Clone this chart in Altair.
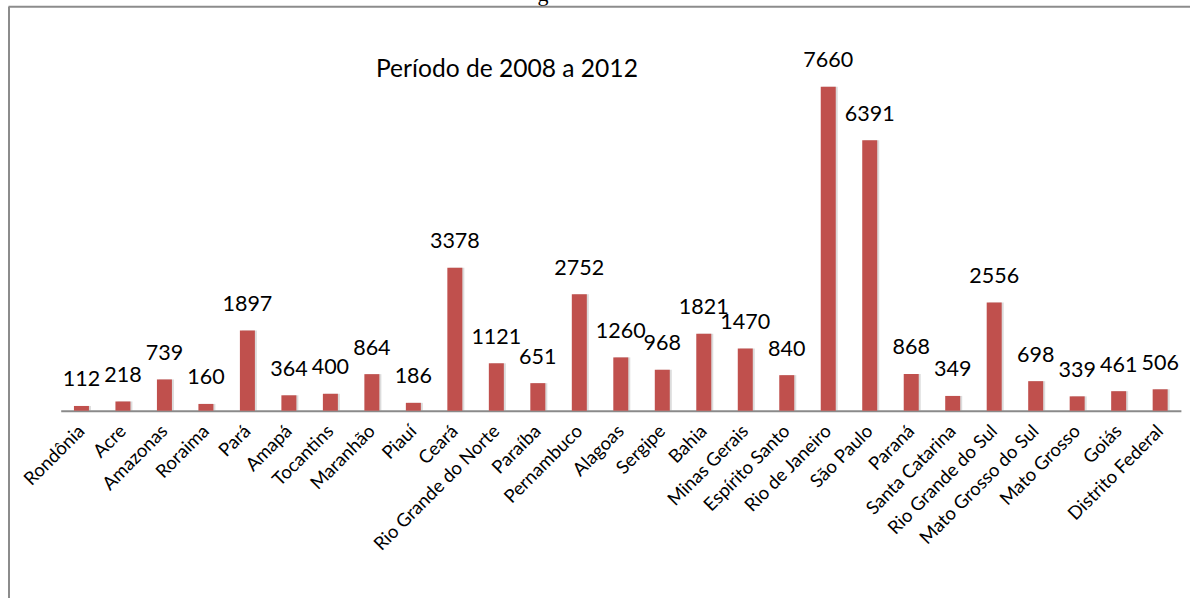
import altair as alt
import pandas as pd

estados = ["Rondônia", "Acre", "Amazonas", "Roraima", "Pará", "Amapá", "Tocantins",
           "Maranhão", "Piauí", "Ceará", "Rio Grande do Norte", "Paraíba", "Pernambuco",
           "Alagoas", "Sergipe", "Bahia", "Minas Gerais", "Espírito Santo",
           "Rio de Janeiro", "São Paulo", "Paraná", "Santa Catarina",
           "Rio Grande do Sul", "Mato Grosso do Sul", "Mato Grosso", "Goiás",
           "Distrito Federal"]
valores = [112, 218, 739, 160, 1897, 364, 400, 864, 186, 3378, 1121, 651, 2752,
           1260, 968, 1821, 1470, 840, 7660, 6391, 868, 349, 2556, 698, 339, 461, 506]
titulo = "Período de 2008 a 2012"

df = pd.DataFrame({"estado": estados, "valor": valores})

PL, PT, W, H = 60.7, 72.3, 1120.2, 338.4
FONT = "Lato"

x = alt.X("estado:N", sort=estados, title=None,
          scale=alt.Scale(paddingInner=0, paddingOuter=0),
          axis=alt.Axis(labelAngle=-45, labelAlign="right", labelBaseline="middle",
                        labelFont=FONT, labelFontSize=18.5, labelColor="#000000",
                        labelPadding=17, ticks=False, domainColor="#8a8a8a",
                        domainWidth=2, labelOverlap=False))
y = alt.Y("valor:Q", scale=alt.Scale(domain=[0, 8000], nice=False), axis=None)

base = alt.Chart(df)

shadow = base.mark_bar(size=15, color="#9a9a9a", opacity=0.35, xOffset=2).encode(x=x, y=y)
bars = base.mark_bar(size=15, color="#C0504D").encode(x=x, y=y)
labels = base.mark_text(font=FONT, fontSize=21.5, color="#000000", baseline="alphabetic",
                        dy=-19.5).encode(x=x, y=y, text="valor:Q")

title = alt.Chart(pd.DataFrame({"t": [titulo]})).mark_text(
    font=FONT, fontSize=24.6, color="#000000", align="left", baseline="alphabetic"
).encode(x=alt.value(376 - PL), y=alt.value(76.7 - PT), text="t:N")

cut = alt.Chart(pd.DataFrame({"t": ["g"]})).mark_text(
    font="Liberation Serif", fontSize=22, color="#000000", align="center", baseline="alphabetic"
).encode(x=alt.value(543 - PL), y=alt.value(0.5 - PT), text="t:N")

frame_top = alt.Chart(pd.DataFrame({"a": [0]})).mark_rule(color="#8c8c8c", strokeWidth=2).encode(
    x=alt.value(8.5 - PL), x2=alt.value(1190 - PL), y=alt.value(6.7 - PT))
frame_left = alt.Chart(pd.DataFrame({"a": [0]})).mark_rule(color="#8c8c8c", strokeWidth=2).encode(
    x=alt.value(9 - PL), y=alt.value(6.7 - PT), y2=alt.value(598 - PT))

chart = alt.layer(shadow, bars, labels, title, cut, frame_top, frame_left).properties(
    width=W, height=H,
    padding={"left": PL, "top": PT, "right": 1190 - PL - W, "bottom": 598 - PT - H},
    autosize=alt.AutoSizeParams(type="none"),
).configure(background="white").configure_view(strokeWidth=0, stroke="transparent")

chart.save("out.html", embed_options={"renderer": "svg", "actions": False})
